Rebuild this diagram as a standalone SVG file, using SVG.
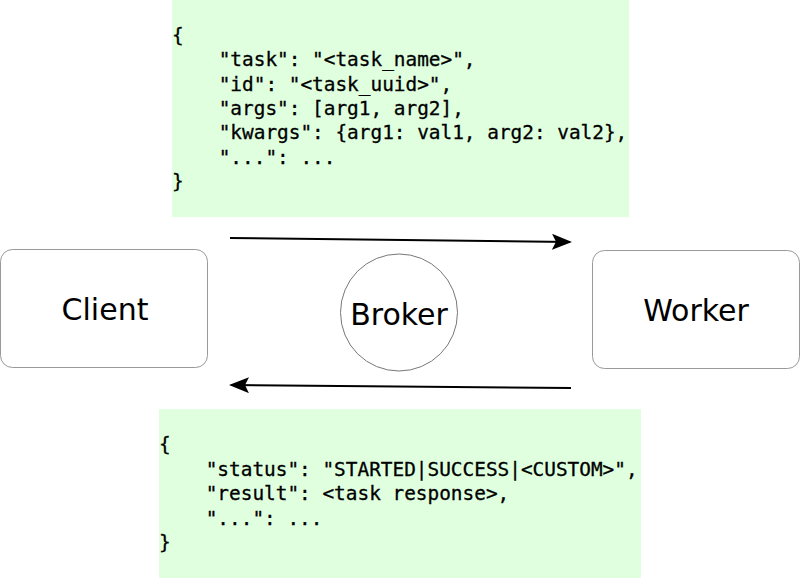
<svg xmlns="http://www.w3.org/2000/svg" width="800" height="578" viewBox="0 0 800 578">
<defs>
<style>
.code{font-family:"DejaVu Sans Mono",monospace;font-size:19.4px;fill:#000;stroke:#000;stroke-width:0.3;white-space:pre}
.box{fill:#dfffdf;stroke:none}
.node{fill:#fff;stroke:#999;stroke-width:1}
.lbl{font-family:"DejaVu Sans",sans-serif;font-size:30px;fill:#000;text-anchor:middle}
.conn{stroke:#000;stroke-width:2;fill:none}
</style>
<marker id="ah" viewBox="0 0 20 16" refX="18" refY="8" markerWidth="20" markerHeight="16" markerUnits="userSpaceOnUse" orient="auto">
<path d="M0,0 L20,8 L0,16 L4,8 Z" fill="#000"/>
</marker>
</defs>
<g id="request">
<rect class="box" x="172" y="0" width="457" height="217"/>
<text class="code" xml:space="preserve"><tspan x="172" y="42">{</tspan><tspan x="172" y="66.3">    "task": "&lt;task_name&gt;",</tspan><tspan x="172" y="90.6">    "id": "&lt;task_uuid&gt;",</tspan><tspan x="172" y="114.9">    "args": [arg1, arg2],</tspan><tspan x="172" y="139.2">    "kwargs": {arg1: val1, arg2: val2},</tspan><tspan x="172" y="163.5">    "...": ...</tspan><tspan x="172" y="187.8">}</tspan></text>
</g>
<g id="response">
<rect class="box" x="159" y="409" width="482" height="169"/>
<text class="code" xml:space="preserve"><tspan x="159" y="451">{</tspan><tspan x="159" y="475.5">    "status": "STARTED|SUCCESS|&lt;CUSTOM&gt;",</tspan><tspan x="159" y="500">    "result": &lt;task response&gt;,</tspan><tspan x="159" y="524.5">    "...": ...</tspan><tspan x="159" y="549">}</tspan></text>
</g>
<g id="client">
<rect class="node" x="0.5" y="249.5" width="207" height="118" rx="12"/>
<text class="lbl" x="105" y="320">Client</text>
</g>
<g id="broker">
<circle cx="399" cy="312.5" r="58.5" fill="#fff" stroke="#777" stroke-width="1"/>
<text class="lbl" x="399" y="325">Broker</text>
</g>
<g id="worker">
<rect class="node" x="592.5" y="250.5" width="207" height="118" rx="12"/>
<text class="lbl" x="696" y="321">Worker</text>
</g>
<g id="connectors">
<line class="conn" x1="230" y1="238" x2="570" y2="242" marker-end="url(#ah)"/>
<line class="conn" x1="571" y1="388" x2="231" y2="385" marker-end="url(#ah)"/>
</g>
</svg>
